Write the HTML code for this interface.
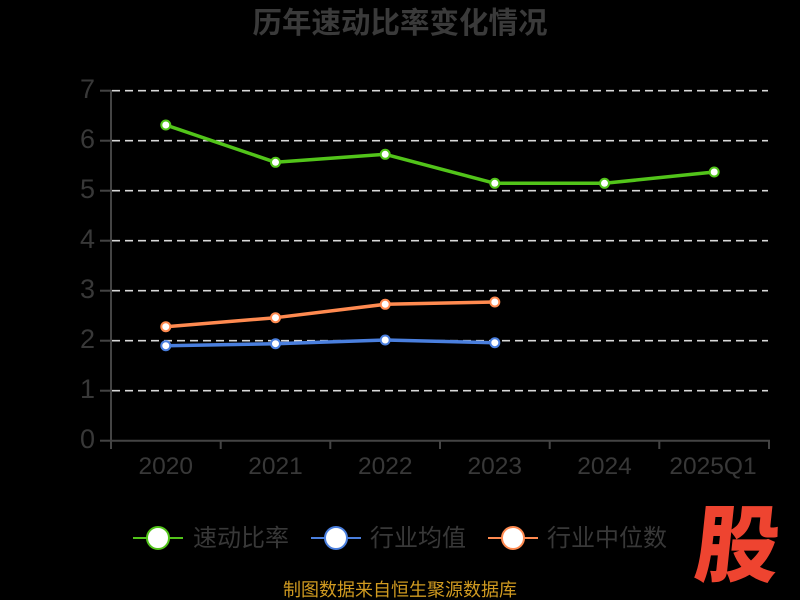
<!DOCTYPE html>
<html><head><meta charset="utf-8"><style>
html,body{margin:0;padding:0;background:#000;}
svg{display:block;}
</style></head><body>
<svg width="800" height="600" viewBox="0 0 800 600" xmlns="http://www.w3.org/2000/svg">
<rect width="800" height="600" fill="#000"/>
<text x="400" y="33" text-anchor="middle" font-family="Liberation Sans, Noto Sans CJK SC, sans-serif" font-size="29.5" font-weight="bold" fill="#3a3a3a">历年速动比率变化情况</text>
<g stroke="#d8d8d8" stroke-width="1.6" stroke-dasharray="8,5">
<line x1="112" y1="90.7" x2="768" y2="90.7"/>
<line x1="112" y1="140.7" x2="768" y2="140.7"/>
<line x1="112" y1="190.7" x2="768" y2="190.7"/>
<line x1="112" y1="240.7" x2="768" y2="240.7"/>
<line x1="112" y1="290.7" x2="768" y2="290.7"/>
<line x1="112" y1="340.7" x2="768" y2="340.7"/>
<line x1="112" y1="390.7" x2="768" y2="390.7"/>
</g>
<g stroke="#444" stroke-width="2" fill="none">
<line x1="111" y1="90" x2="111" y2="441"/>
<line x1="100" y1="90.7" x2="111" y2="90.7"/>
<line x1="100" y1="140.7" x2="111" y2="140.7"/>
<line x1="100" y1="190.7" x2="111" y2="190.7"/>
<line x1="100" y1="240.7" x2="111" y2="240.7"/>
<line x1="100" y1="290.7" x2="111" y2="290.7"/>
<line x1="100" y1="340.7" x2="111" y2="340.7"/>
<line x1="100" y1="390.7" x2="111" y2="390.7"/>
<line x1="100" y1="440.7" x2="111" y2="440.7"/>
<line x1="110" y1="440.7" x2="770" y2="440.7"/>
<line x1="111" y1="440" x2="111" y2="449"/>
<line x1="220.7" y1="440" x2="220.7" y2="449"/>
<line x1="330.3" y1="440" x2="330.3" y2="449"/>
<line x1="440" y1="440" x2="440" y2="449"/>
<line x1="549.7" y1="440" x2="549.7" y2="449"/>
<line x1="659.3" y1="440" x2="659.3" y2="449"/>
<line x1="769" y1="440" x2="769" y2="449"/>
</g>
<g font-family="Liberation Sans, sans-serif" font-size="27" fill="#383838" text-anchor="end">
<text x="95" y="98">7</text>
<text x="95" y="148">6</text>
<text x="95" y="198">5</text>
<text x="95" y="248">4</text>
<text x="95" y="298">3</text>
<text x="95" y="348">2</text>
<text x="95" y="398">1</text>
<text x="95" y="448">0</text>
</g>
<g font-family="Liberation Sans, sans-serif" font-size="24.5" fill="#383838" text-anchor="middle">
<text x="165.8" y="474">2020</text>
<text x="275.5" y="474">2021</text>
<text x="385.2" y="474">2022</text>
<text x="494.8" y="474">2023</text>
<text x="604.5" y="474">2024</text>
<text x="713" y="474">2025Q1</text>
</g>
<polyline fill="none" stroke="#52c41a" stroke-width="3.5" stroke-linejoin="round" points="165.8,125 275.5,162.3 385.2,154.3 494.8,183.3 604.5,183.3 714.2,172"/>
<polyline fill="none" stroke="#ff8a50" stroke-width="3.5" stroke-linejoin="round" points="165.8,326.7 275.5,317.7 385.2,304.3 494.8,302"/>
<polyline fill="none" stroke="#4a7fde" stroke-width="3.5" stroke-linejoin="round" points="165.8,345.7 275.5,343.7 385.2,340 494.8,342.7"/>
<g fill="#fff" stroke="#52c41a" stroke-width="2">
<circle cx="165.8" cy="125" r="4.5"/><circle cx="275.5" cy="162.3" r="4.5"/><circle cx="385.2" cy="154.3" r="4.5"/><circle cx="494.8" cy="183.3" r="4.5"/><circle cx="604.5" cy="183.3" r="4.5"/><circle cx="714.2" cy="172" r="4.5"/>
</g>
<g fill="#fff" stroke="#ff8a50" stroke-width="2">
<circle cx="165.8" cy="326.7" r="4.5"/><circle cx="275.5" cy="317.7" r="4.5"/><circle cx="385.2" cy="304.3" r="4.5"/><circle cx="494.8" cy="302" r="4.5"/>
</g>
<g fill="#fff" stroke="#4a7fde" stroke-width="2">
<circle cx="165.8" cy="345.7" r="4.5"/><circle cx="275.5" cy="343.7" r="4.5"/><circle cx="385.2" cy="340" r="4.5"/><circle cx="494.8" cy="342.7" r="4.5"/>
</g>
<g stroke-width="2">
<line x1="133" y1="538" x2="183" y2="538" stroke="#52c41a"/>
<circle cx="158" cy="538" r="11" fill="#fff" stroke="#52c41a"/>
<line x1="311" y1="538" x2="361" y2="538" stroke="#4a7fde"/>
<circle cx="336" cy="538" r="11" fill="#fff" stroke="#4a7fde"/>
<line x1="488" y1="538" x2="538" y2="538" stroke="#ff8a50"/>
<circle cx="513" cy="538" r="11" fill="#fff" stroke="#ff8a50"/>
</g>
<g font-family="Liberation Sans, Noto Sans CJK SC, sans-serif" font-size="24" fill="#383838">
<text x="193" y="546">速动比率</text>
<text x="370" y="546">行业均值</text>
<text x="547" y="546">行业中位数</text>
</g>
<text x="737" y="575" text-anchor="middle" font-family="Noto Sans CJK SC, sans-serif" font-size="84" font-weight="900" fill="#ee4430" transform="skewX(-6) translate(58,0)">股</text>
<text x="400" y="596" text-anchor="middle" font-family="Liberation Sans, Noto Sans CJK SC, sans-serif" font-size="18" fill="#d09a20">制图数据来自恒生聚源数据库</text>
</svg>
</body></html>
